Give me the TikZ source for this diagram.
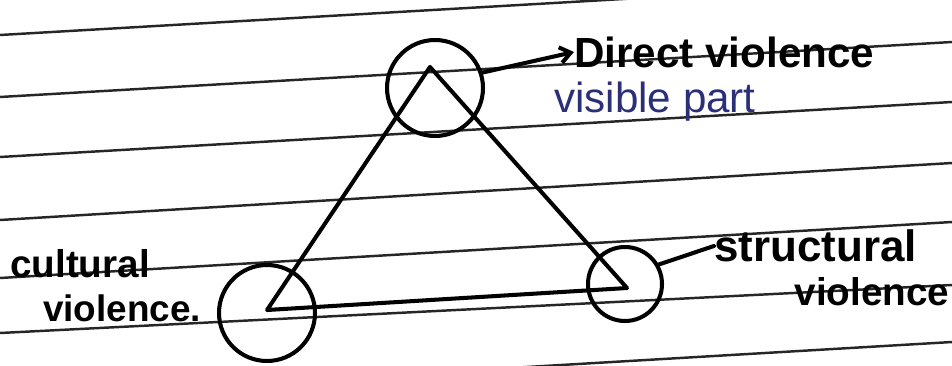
\documentclass[tikz,border=0pt]{standalone}
\usepackage{fontspec}
\setmainfont{Liberation Sans}
\usetikzlibrary{arrows.meta}
\definecolor{bluink}{HTML}{2B2F78}

\begin{document}
\begin{tikzpicture}[x=0.02cm,y=-0.02cm,
    ink/.style={line width=2.3pt,line cap=round,line join=round},
    ruled/.style={line width=1.4pt,black!85},
    ring/.style={ink,draw,circle,inner sep=0pt},
    hand/.style={inner sep=0pt,font=\bfseries\fontsize{#1}{#1}\selectfont},
    hand/.default=22]
    \useasboundingbox (0,0) rectangle (952,365);
    \clip (0,0) rectangle (952,365);

    % notebook rules
    \foreach \yl/\yr in {35/-20,97/42,157/102,220/163,278/222,333/285,398/342}
        \draw[ruled] (0,\yl) -- (952,\yr);

    % triangle corners
    \coordinate (A) at (430,67);
    \coordinate (B) at (267,310);
    \coordinate (C) at (627,288);
    \draw[ink] (A) -- (B) -- (C) -- cycle;

    \node[ring,minimum size=1.92cm] (top) at (435,88) {};
    \node[ring,minimum size=1.92cm] (cult) at (267,313) {};
    \node[ring,minimum size=1.48cm] (strc) at (625,284) {};

    % labels
    \node[hand=24,anchor=west] (direct) at (574,52) {Direct violence};
    \node[inner sep=0pt,font=\fontsize{24}{24}\selectfont,text=bluink] (visible) at (655,102) {visible part};
    \node[hand] (cultA) at (80,264) {cultural};
    \node[hand=21] (cultB) at (122,308) {violence.};
    \node[hand=25,anchor=west] (strA) at (714,246) {structural};
    \node[hand] (strB) at (872,292) {violence};

    \draw[ink,-{Straight Barb[length=6pt,width=9pt]}] (top.18) -- (direct.west);
    \draw[ink] (strc.30) -- (strA.west);
\end{tikzpicture}
\end{document}
